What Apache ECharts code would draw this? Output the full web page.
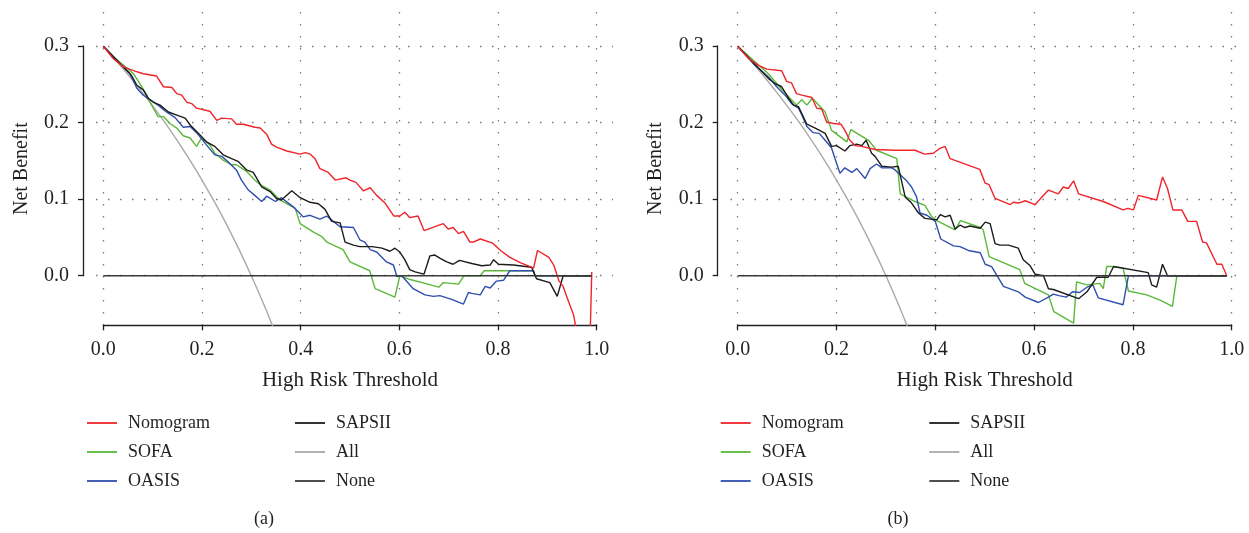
<!DOCTYPE html>
<html>
<head>
<meta charset="utf-8">
<title>Decision curves</title>
<script src="https://cdn.jsdelivr.net/npm/echarts@6/dist/echarts.min.js"></script>
<style>
  html, body { margin: 0; background: #fff; }
  #main { width: 1249px; height: 533px; }
</style>
</head>
<body>
<div id="main"></div>
<script>
// ---- data: [threshold, net benefit] ----
var nomogramA = [[0,0.300],[0.02,0.284],[0.041,0.273],[0.061,0.268],[0.081,0.264],[0.108,0.261],[0.122,0.247],[0.139,0.246],[0.149,0.238],[0.159,0.236],[0.169,0.227],[0.179,0.225],[0.189,0.219],[0.216,0.215],[0.230,0.203],[0.240,0.206],[0.260,0.205],[0.270,0.198],[0.284,0.198],[0.307,0.194],[0.318,0.193],[0.331,0.185],[0.341,0.172],[0.351,0.168],[0.372,0.163],[0.399,0.159],[0.409,0.161],[0.419,0.159],[0.429,0.153],[0.439,0.140],[0.456,0.135],[0.470,0.125],[0.492,0.128],[0.500,0.125],[0.512,0.122],[0.527,0.111],[0.541,0.115],[0.554,0.105],[0.571,0.095],[0.589,0.078],[0.601,0.078],[0.611,0.083],[0.621,0.076],[0.638,0.078],[0.650,0.059],[0.689,0.068],[0.699,0.061],[0.709,0.063],[0.720,0.055],[0.730,0.058],[0.743,0.044],[0.750,0.044],[0.764,0.048],[0.788,0.043],[0.797,0.038],[0.807,0.032],[0.824,0.024],[0.845,0.017],[0.865,0.012],[0.872,0.010],[0.880,0.033],[0.903,0.024],[0.913,0.014],[0.923,-0.006],[0.932,-0.014],[0.942,-0.032],[0.953,-0.051],[0.960,-0.075],[0.970,-0.12],[0.980,-0.25],[0.990,0.005]];
var sofaA = [[0,0.300],[0.02,0.286],[0.041,0.275],[0.061,0.264],[0.074,0.251],[0.088,0.236],[0.098,0.223],[0.111,0.208],[0.122,0.208],[0.135,0.199],[0.149,0.193],[0.162,0.183],[0.176,0.180],[0.189,0.169],[0.199,0.180],[0.216,0.171],[0.226,0.160],[0.243,0.151],[0.260,0.145],[0.270,0.145],[0.291,0.136],[0.307,0.125],[0.318,0.119],[0.338,0.112],[0.358,0.099],[0.389,0.088],[0.399,0.068],[0.426,0.057],[0.443,0.051],[0.453,0.044],[0.486,0.034],[0.500,0.018],[0.540,0.0065],[0.551,-0.017],[0.591,-0.028],[0.601,0.000],[0.622,-0.005],[0.652,-0.010],[0.680,-0.015],[0.689,-0.009],[0.720,-0.011],[0.731,0.000],[0.764,0.000],[0.772,0.0065],[0.872,0.0065],[0.875,0.000],[0.990,0.000]];
var oasisA = [[0,0.300],[0.054,0.264],[0.068,0.245],[0.081,0.236],[0.095,0.230],[0.111,0.223],[0.128,0.214],[0.145,0.207],[0.162,0.194],[0.176,0.195],[0.189,0.187],[0.209,0.171],[0.226,0.158],[0.240,0.156],[0.253,0.149],[0.270,0.138],[0.280,0.125],[0.294,0.112],[0.307,0.105],[0.321,0.097],[0.331,0.104],[0.349,0.097],[0.361,0.102],[0.385,0.090],[0.405,0.077],[0.419,0.079],[0.439,0.074],[0.453,0.078],[0.466,0.071],[0.480,0.064],[0.507,0.063],[0.520,0.047],[0.530,0.044],[0.541,0.034],[0.554,0.031],[0.574,0.018],[0.588,0.014],[0.595,-0.001],[0.605,0.000],[0.628,-0.017],[0.652,-0.025],[0.669,-0.027],[0.682,-0.026],[0.706,-0.031],[0.730,-0.037],[0.740,-0.022],[0.747,-0.023],[0.764,-0.025],[0.774,-0.014],[0.784,-0.016],[0.797,-0.007],[0.811,-0.006],[0.824,0.0065],[0.872,0.0065],[0.875,0.000],[0.990,0.000]];
var sapsiiA = [[0,0.300],[0.057,0.262],[0.068,0.249],[0.081,0.243],[0.091,0.232],[0.101,0.227],[0.115,0.223],[0.132,0.214],[0.149,0.210],[0.166,0.206],[0.176,0.197],[0.196,0.184],[0.209,0.175],[0.226,0.169],[0.243,0.158],[0.260,0.153],[0.274,0.149],[0.291,0.138],[0.304,0.135],[0.321,0.116],[0.338,0.110],[0.351,0.101],[0.361,0.099],[0.382,0.111],[0.399,0.102],[0.419,0.096],[0.436,0.094],[0.449,0.087],[0.463,0.071],[0.480,0.069],[0.490,0.044],[0.507,0.040],[0.520,0.038],[0.545,0.038],[0.565,0.036],[0.581,0.032],[0.591,0.036],[0.601,0.031],[0.611,0.021],[0.621,0.008],[0.632,0.005],[0.650,0.002],[0.662,0.026],[0.672,0.027],[0.682,0.023],[0.696,0.018],[0.709,0.015],[0.722,0.020],[0.747,0.016],[0.767,0.013],[0.784,0.014],[0.791,0.021],[0.801,0.015],[0.831,0.014],[0.868,0.011],[0.878,-0.004],[0.905,-0.009],[0.920,-0.027],[0.932,0.000],[0.990,0.000]];

var nomogramB = [[0,0.300],[0.022,0.284],[0.042,0.275],[0.059,0.270],[0.089,0.268],[0.099,0.254],[0.109,0.252],[0.119,0.238],[0.130,0.236],[0.150,0.233],[0.160,0.219],[0.170,0.218],[0.180,0.201],[0.194,0.199],[0.209,0.198],[0.217,0.190],[0.227,0.177],[0.238,0.170],[0.251,0.169],[0.278,0.165],[0.318,0.164],[0.359,0.164],[0.378,0.159],[0.396,0.160],[0.408,0.166],[0.420,0.169],[0.430,0.153],[0.490,0.139],[0.501,0.121],[0.509,0.119],[0.521,0.101],[0.552,0.093],[0.558,0.096],[0.568,0.095],[0.582,0.098],[0.602,0.093],[0.629,0.112],[0.649,0.107],[0.659,0.116],[0.669,0.114],[0.680,0.124],[0.690,0.107],[0.740,0.097],[0.780,0.086],[0.790,0.088],[0.801,0.086],[0.811,0.105],[0.848,0.099],[0.860,0.129],[0.870,0.114],[0.881,0.086],[0.899,0.086],[0.911,0.071],[0.929,0.071],[0.941,0.044],[0.949,0.043],[0.970,0.015],[0.980,0.015],[0.990,0.000]];
var sofaB = [[0,0.300],[0.062,0.264],[0.082,0.249],[0.103,0.234],[0.119,0.223],[0.130,0.230],[0.140,0.223],[0.151,0.232],[0.177,0.214],[0.190,0.190],[0.221,0.175],[0.229,0.191],[0.265,0.177],[0.281,0.164],[0.322,0.153],[0.329,0.107],[0.359,0.097],[0.379,0.092],[0.393,0.077],[0.403,0.072],[0.440,0.060],[0.451,0.072],[0.491,0.063],[0.497,0.060],[0.509,0.025],[0.571,0.008],[0.581,-0.010],[0.629,-0.025],[0.640,-0.047],[0.680,-0.062],[0.686,-0.008],[0.707,-0.012],[0.720,-0.011],[0.733,-0.010],[0.740,-0.017],[0.747,0.012],[0.757,0.012],[0.780,0.010],[0.791,-0.020],[0.828,-0.025],[0.855,-0.032],[0.880,-0.040],[0.889,0.000],[0.990,0.000]];
var oasisB = [[0,0.300],[0.035,0.275],[0.062,0.260],[0.079,0.247],[0.096,0.236],[0.109,0.225],[0.123,0.219],[0.130,0.210],[0.140,0.195],[0.153,0.187],[0.165,0.186],[0.177,0.177],[0.190,0.167],[0.197,0.153],[0.207,0.134],[0.217,0.141],[0.231,0.135],[0.241,0.140],[0.258,0.127],[0.268,0.140],[0.281,0.146],[0.292,0.141],[0.312,0.141],[0.319,0.138],[0.342,0.124],[0.352,0.116],[0.362,0.103],[0.369,0.082],[0.383,0.079],[0.400,0.071],[0.411,0.048],[0.437,0.039],[0.450,0.038],[0.467,0.033],[0.491,0.030],[0.501,0.015],[0.514,0.012],[0.538,-0.014],[0.568,-0.021],[0.582,-0.028],[0.609,-0.035],[0.629,-0.028],[0.639,-0.024],[0.650,-0.026],[0.665,-0.028],[0.678,-0.021],[0.692,-0.022],[0.707,-0.015],[0.719,-0.012],[0.730,-0.029],[0.780,-0.038],[0.791,0.000],[0.990,0.000]];
var sapsiiB = [[0,0.300],[0.062,0.258],[0.076,0.251],[0.089,0.247],[0.103,0.232],[0.113,0.223],[0.123,0.221],[0.140,0.198],[0.157,0.193],[0.177,0.186],[0.190,0.169],[0.200,0.170],[0.217,0.163],[0.227,0.170],[0.241,0.172],[0.251,0.170],[0.260,0.177],[0.271,0.160],[0.278,0.156],[0.292,0.143],[0.312,0.142],[0.325,0.143],[0.339,0.103],[0.352,0.095],[0.366,0.082],[0.379,0.075],[0.403,0.073],[0.410,0.080],[0.420,0.077],[0.430,0.079],[0.440,0.061],[0.450,0.066],[0.460,0.063],[0.470,0.065],[0.491,0.062],[0.501,0.070],[0.511,0.068],[0.521,0.042],[0.531,0.040],[0.548,0.040],[0.568,0.036],[0.578,0.021],[0.592,0.013],[0.602,0.002],[0.619,0.000],[0.629,-0.017],[0.639,-0.018],[0.690,-0.030],[0.707,-0.021],[0.727,-0.002],[0.750,-0.002],[0.761,0.012],[0.831,0.004],[0.838,-0.012],[0.848,-0.015],[0.860,0.015],[0.870,0.000],[0.990,0.000]];

// treat-all and treat-none reference curves (same in both panels)
var treatAll = [[0,0.300],[0.025,0.282],[0.05,0.263],[0.075,0.243],[0.1,0.222],[0.125,0.200],[0.15,0.1765],[0.175,0.1515],[0.2,0.125],[0.225,0.0968],[0.25,0.0667],[0.275,0.0345],[0.3,0.000],[0.325,-0.037],[0.35,-0.077]];
var treatNone = [[0,0],[0.99,0]];

var seriesNames = ['Nomogram', 'SOFA', 'OASIS', 'SAPSII', 'All', 'None'];
var seriesColors = ['#f0242b', '#5bb83a', '#2f4fae', '#1c1c1c', '#a9a9a9', '#3a3a3a'];
var panelLabels = ['(a)', '(b)'];
var panelData = [
  [nomogramA, sofaA, oasisA, sapsiiA, treatAll, treatNone],
  [nomogramB, sofaB, oasisB, sapsiiB, treatAll, treatNone]
];

var FONT = '"Liberation Serif", "DejaVu Serif", serif';
var INK = '#231f20';

// pixel layout of each panel (x=0 at left, x=1 at left+width, y axis line at axisX)
var panelBox = [
  { left: 103.3, width: 493.4, axisX: 83, gridL: 96, gridW: 517, legend: [87, 295], caption: 264 },
  { left: 737.7, width: 494.0, axisX: 717.7, gridL: 730.5, gridW: 512, legend: [720.7, 929.3], caption: 898 }
];

var myChart = echarts.init(document.getElementById('main'));
var grids = [], xAxes = [], yAxes = [], series = [], legends = [], graphics = [];
var dotted = { type: [1.5, 10.5], color: '#7a7a7a', width: 1.3 };

panelBox.forEach(function (b, i) {
  // main plotting region
  grids.push({ left: b.left, width: b.width, top: 12, height: 313.3 });
  // grid that only carries the short y axis and the horizontal dotted lines
  grids.push({ left: b.gridL, width: b.gridW, top: 46, height: 229.7 });

  xAxes.push({
    gridIndex: 2 * i, type: 'value', min: 0, max: 1, interval: 0.2,
    axisLine: { onZero: false, lineStyle: { color: INK, width: 1.3 } },
    axisTick: { length: 5, lineStyle: { color: INK, width: 1.3 } },
    axisLabel: { fontFamily: FONT, fontSize: 20, color: INK, margin: 14,
      formatter: function (v) { return v.toFixed(1); } },
    splitLine: { show: true, lineStyle: dotted },
    name: 'High Risk Threshold', nameLocation: 'middle', nameGap: 45,
    nameTextStyle: { fontFamily: FONT, fontSize: 21, color: INK }
  });
  xAxes.push({ gridIndex: 2 * i + 1, type: 'value', min: 0, max: 1, show: false,
    axisLine: { onZero: false } });

  yAxes.push({
    gridIndex: 2 * i, type: 'value', min: -0.0648, max: 0.3447,
    axisLine: { show: false, onZero: false }, axisTick: { show: false }, axisLabel: { show: false },
    splitLine: { show: false },
    name: 'Net Benefit', nameLocation: 'middle', nameGap: 72,
    nameTextStyle: { fontFamily: FONT, fontSize: 20, color: INK }
  });
  yAxes.push({
    gridIndex: 2 * i + 1, type: 'value', min: 0, max: 0.3, interval: 0.1,
    offset: b.gridL - b.axisX,
    axisLine: { show: true, onZero: false, lineStyle: { color: INK, width: 1.3 } },
    axisTick: { show: true, length: 5, lineStyle: { color: INK, width: 1.3 } },
    axisLabel: { fontFamily: FONT, fontSize: 20, color: INK, margin: 14,
      formatter: function (v) { return v.toFixed(1); } },
    splitLine: { show: true, lineStyle: dotted }
  });

  var order = [4, 1, 2, 3, 0, 5]; // All, SOFA, OASIS, SAPSII, Nomogram, None
  order.forEach(function (k) {
    series.push({
      name: seriesNames[k], type: 'line',
      xAxisIndex: 2 * i, yAxisIndex: 2 * i,
      data: panelData[i][k],
      smooth: k === 4,
      symbol: 'none', clip: true,
      lineStyle: { color: seriesColors[k], width: k === 5 ? 1.6 : 1.4 },
      itemStyle: { color: seriesColors[k] },
      z: 2 + (k === 5 ? 5 : 0)
    });
  });

  [[0, 1, 2], [3, 4, 5]].forEach(function (col, c) {
    legends.push({
      orient: 'vertical', left: b.legend[c], top: 414, padding: 0,
      icon: 'rect', itemWidth: 30, itemHeight: 1.8, itemGap: 11,
      selectedMode: false,
      data: col.map(function (k) { return seriesNames[k]; }),
      textStyle: { fontFamily: FONT, fontSize: 18, color: INK, padding: [0, 0, 0, 6] }
    });
  });

  graphics.push({
    type: 'text', x: b.caption, y: 519,
    style: { text: panelLabels[i], font: '18px ' + FONT, fill: INK,
      textAlign: 'center', textVerticalAlign: 'middle' }
  });
});

var option = {
  animation: false,
  backgroundColor: '#fff',
  grid: grids,
  xAxis: xAxes,
  yAxis: yAxes,
  legend: legends,
  series: series,
  graphic: graphics
};
myChart.setOption(option);
</script>
</body>
</html>
